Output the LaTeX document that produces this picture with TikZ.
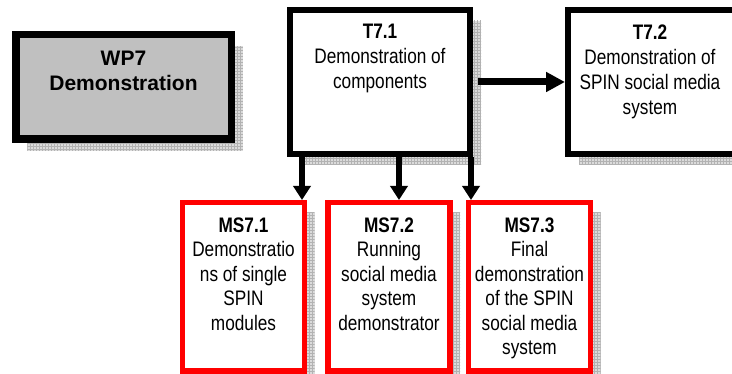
\documentclass[tikz,border=0pt]{standalone}
\usepackage{fontspec}
\setmainfont{Liberation Sans}
\newfontfamily\narrowfont[FakeStretch=0.82]{Liberation Sans}
\usetikzlibrary{arrows.meta,positioning,shadows,patterns}
\definecolor{wpgray}{RGB}{192,192,192}

\begin{document}
\begin{tikzpicture}[
  x=1pt,y=-1pt,
  shade/.style={
    general shadow={shadow xshift=#1,shadow yshift=-#1,fill=black!14},
    general shadow={shadow xshift=#1,shadow yshift=-#1,pattern=grid,pattern color=black!30}},
  wpbox/.style={draw=black,line width=7.5pt,fill=wpgray,minimum width=215.5pt,minimum height=104.5pt,inner sep=0pt,shade=11.5pt},
  taskbox/.style={draw=black,line width=6pt,fill=white,minimum width=180pt,minimum height=144pt,inner sep=0pt,shade=11pt},
  msbox/.style={draw=red,line width=5.5pt,fill=white,minimum width=122pt,minimum height=168.5pt,inner sep=0pt,shade=10pt},
  wptext/.style={font=\bfseries\fontsize{21}{25}\selectfont,align=center,inner sep=0pt},
  boxtext/.style={font=\narrowfont\fontsize{21}{25}\selectfont,align=center,inner sep=0pt},
  mstext/.style={font=\narrowfont\fontsize{21}{24.5}\selectfont,align=center,inner sep=0pt},
  link/.style={-{Triangle[length=19pt,width=19pt]},line width=7pt},
  drop/.style={-{Triangle[length=14pt,width=17pt]},line width=6pt},
]
\useasboundingbox (0,0) rectangle (732,374);

% work package and tasks
\node[wpbox] (wp7) at (123.5,87) {};
\node[taskbox] (t71) at (380,82) {};
\node[taskbox,right=92pt of t71] (t72) {};

% milestones
\node[msbox] (ms71) at (243.5,287) {};
\node[msbox,right=18pt of ms71] (ms72) {};
\node[msbox,right=13pt of ms72] (ms73) {};

\node[wptext,below=19.5pt of wp7.north] (wp7txt) {WP7\\Demonstration};
\node[boxtext,below=16.5pt of t71.north] (t71txt) {\textbf{T7.1}\\Demonstration of\\components};
\node[boxtext,below=17.5pt of t72.north,xshift=-8pt] (t72txt) {\textbf{T7.2}\\Demonstration of\\SPIN social media\\system};
\node[mstext,below=17.5pt of ms71.north] (ms71txt) {\textbf{MS7.1}\\Demonstratio\\ns of single\\SPIN\\modules};
\node[mstext,below=17.5pt of ms72.north] (ms72txt) {\textbf{MS7.2}\\Running\\social media\\system\\demonstrator};
\node[mstext,below=17.5pt of ms73.north] (ms73txt) {\textbf{MS7.3}\\Final\\demonstration\\of the SPIN\\social media\\system};

% connectors
\draw[link] ([xshift=5pt]t71.east) -- (t71.east -| t72.west);
\draw[drop] ([xshift=15pt]t71.south west) -- ([xshift=15pt]t71.south west |- ms71.north);
\draw[drop] ([xshift=112pt]t71.south west) -- ([xshift=112pt]t71.south west |- ms72.north);
\draw[drop] ([xshift=184pt]t71.south west) -- ([xshift=184pt]t71.south west |- ms73.north);
\end{tikzpicture}
\end{document}
